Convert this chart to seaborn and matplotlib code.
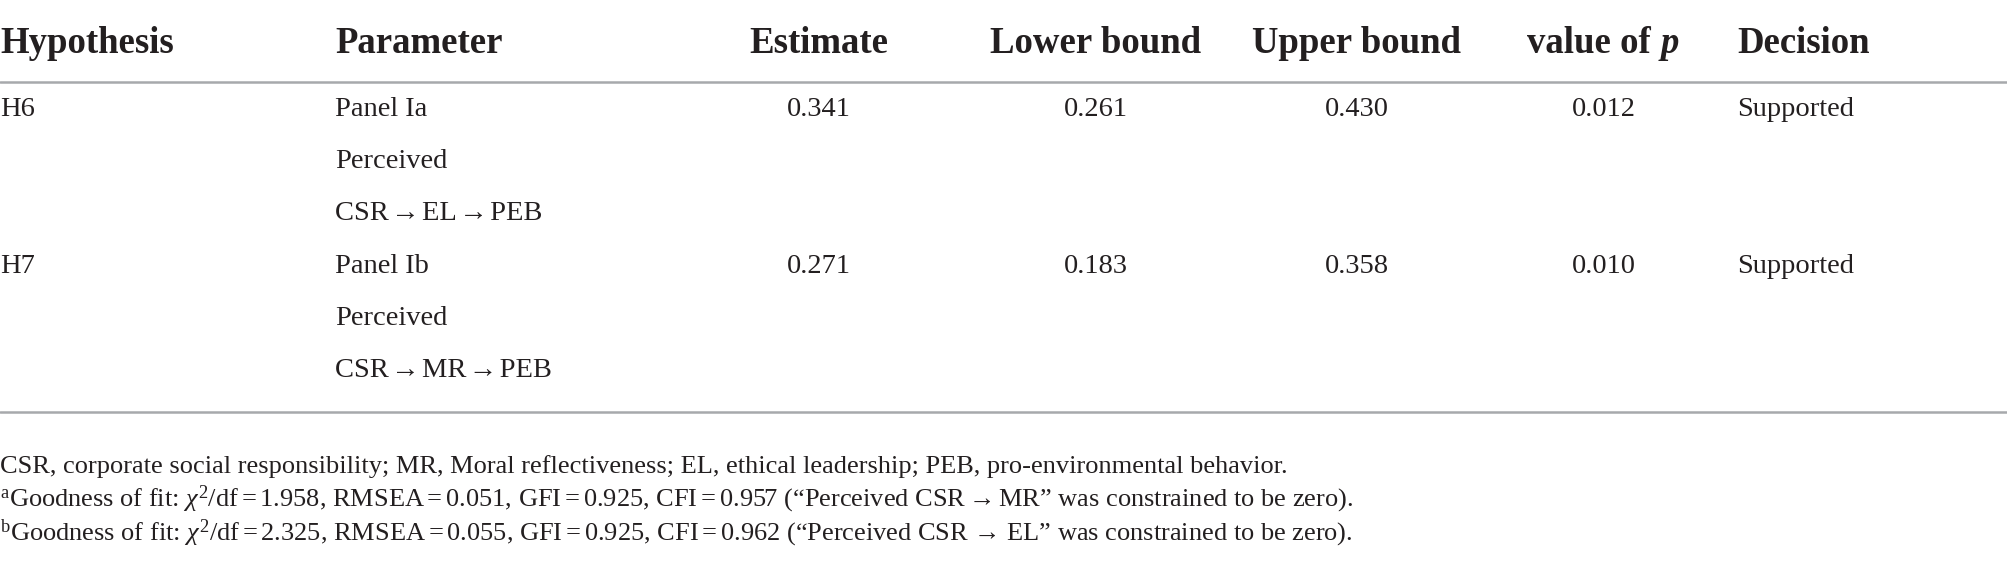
import matplotlib
matplotlib.use("Agg")
import matplotlib.pyplot as plt
import seaborn as sns
import pandas as pd

# ---------------------------------------------
# Table data
# ---------------------------------------------
columns = ["Hypothesis", "Parameter", "Estimate", "Lower bound", "Upper bound", "value of ", "Decision"]
hypotheses = ["H6", "H7"]
param_lines = [["Panel Ia", "Perceived", "CSR\u200a\u2192\u200aEL\u200a\u2192\u200aPEB"],
               ["Panel Ib", "Perceived", "CSR\u200a\u2192\u200aMR\u200a\u2192\u200aPEB"]]
estimate = [0.341, 0.271]
lower = [0.261, 0.183]
upper = [0.430, 0.358]
p_values = [0.012, 0.010]
decision = ["Supported", "Supported"]

notes = [
    "CSR, corporate social responsibility; MR, Moral reflectiveness; EL, ethical leadership; PEB, pro-environmental behavior.",
    "$^{\\mathrm{a}}$Goodness of fit: $\\chi^{2}$/df$=$1.958, RMSEA$=$0.051, GFI$=$0.925, "
    "CFI$=$0.957 (\u201cPerceived CSR$\\rightarrow$MR\u201d was constrained to be zero).",
    "$^{\\mathrm{b}}$Goodness of fit: $\\chi^{2}$/df$=$2.325, RMSEA$=$0.055, GFI$=$0.925, "
    "CFI$=$0.962 (\u201cPerceived CSR \u2192 EL\u201d was constrained to be zero).",
]

df = pd.DataFrame({"Estimate": estimate, "Lower bound": lower,
                   "Upper bound": upper, "p": p_values})

# ---------------------------------------------
# Style
# ---------------------------------------------
sns.set_theme(style="white")
plt.rcParams['font.family'] = ['Liberation Serif', 'DejaVu Serif']
plt.rcParams['mathtext.fontset'] = 'custom'
plt.rcParams['mathtext.rm'] = 'Liberation Serif'
plt.rcParams['mathtext.it'] = 'Liberation Serif:italic'
plt.rcParams['mathtext.bf'] = 'Liberation Serif:bold'

ink = "#231f20"
rule = "#a7a9ac"
head_size = 26.5
body_size = 20.5
note_size = 19

fig = plt.figure(figsize=(20.08, 5.67), dpi=100)
ax = fig.add_axes([0, 0, 1, 1])
ax.set_xlim(0, 2008)
ax.set_ylim(567, 0)
ax.axis("off")

# column anchors (pixels)
x_hyp = 0
x_par = 335
x_num = {"Estimate": 819, "Lower bound": 1096, "Upper bound": 1357, "p": 1604}
x_dec = 1737
y_head = 53
row_top = 116
row_step = 52.2

# header
ax.text(x_hyp, y_head, columns[0], fontsize=head_size, fontweight="bold", color=ink, va="baseline")
ax.text(x_par, y_head, columns[1], fontsize=head_size, fontweight="bold", color=ink, va="baseline")
for c in ["Estimate", "Lower bound", "Upper bound"]:
    ax.text(x_num[c], y_head, c, fontsize=head_size, fontweight="bold", color=ink,
            va="baseline", ha="center")
ax.text(x_num["p"] + 56, y_head, columns[5], fontsize=head_size, fontweight="bold", color=ink,
        va="baseline", ha="right")
ax.text(x_num["p"] + 57, y_head, "p", fontsize=head_size, fontweight="bold", fontstyle="italic",
        color=ink, va="baseline", ha="left")
ax.text(x_dec, y_head, columns[6], fontsize=head_size, fontweight="bold", color=ink, va="baseline")

ax.axhline(82, color=rule, lw=1.8)

# body rows
for i, h in enumerate(hypotheses):
    y0 = row_top + 3 * i * row_step
    ax.text(x_hyp, y0, h, fontsize=body_size, color=ink, va="baseline")
    for j, line in enumerate(param_lines[i]):
        ax.text(x_par, y0 + j * row_step, line, fontsize=body_size, color=ink, va="baseline")
    for c in ["Estimate", "Lower bound", "Upper bound", "p"]:
        ax.text(x_num[c], y0, f"{df[c].iloc[i]:.3f}", fontsize=body_size, color=ink,
                va="baseline", ha="center")
    ax.text(x_dec, y0, decision[i], fontsize=body_size, color=ink, va="baseline")

ax.axhline(412, color=rule, lw=1.8)

# footnotes
for k, note in enumerate(notes):
    ax.text(0, 473 + k * 33.5, note, fontsize=note_size, color=ink, va="baseline")

fig.savefig("out.png", dpi=100, facecolor="white")
